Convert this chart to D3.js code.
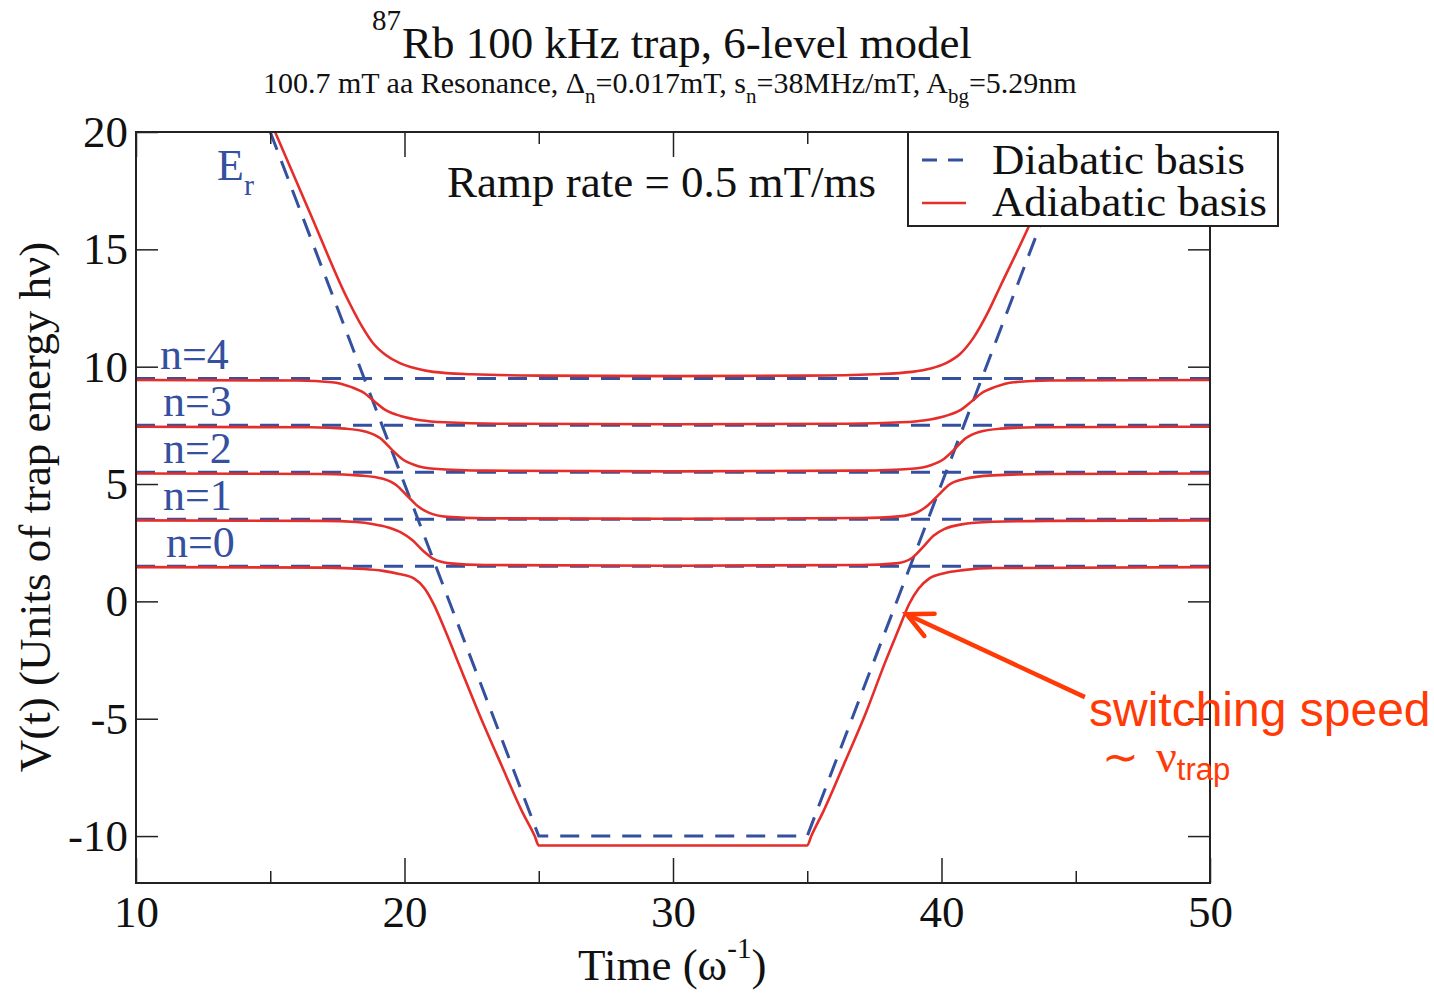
<!DOCTYPE html>
<html>
<head>
<meta charset="utf-8">
<script src="https://cdn.jsdelivr.net/npm/d3@7"></script>
<style>
  body { margin: 0; background: #fff; }
  text { font-family: "Liberation Serif", "Times New Roman", serif; }
</style>
</head>
<body>
<div id="chart"></div>
<script>
// diabatic levels (units of h nu)
var levelValues = [1.5, 3.5, 5.5, 7.5, 9.5]
var levelNames = ["n=0", "n=1", "n=2", "n=3", "n=4"]
// Er ramp, [time, V]
var erRamp = [[15, 20], [25, -10], [35, -10], [45, 20]]

// adiabatic curves, [time, V]
var adiabatic0 = [[10,1.46],[17,1.44],[18.5,1.38],[19.2,1.3],[19.8,1.17],[20.35,0.98],[20.75,0.55],[21.1,-0.15],[21.5,-1.2],[22,-2.6],[22.8,-4.85],[23.6,-6.95],[24.4,-9.0],[24.85,-10.0],[25,-10.4],[35,-10.4],[35.15,-10.0],[35.6,-8.95],[36.4,-6.85],[37.2,-4.7],[37.9,-2.6],[38.4,-1.2],[38.8,-0.1],[39.15,0.55],[39.55,0.98],[40.1,1.2],[40.8,1.33],[42,1.42],[50,1.46]]
var adiabatic1 = [[10,3.45],[17,3.43],[18.2,3.38],[18.8,3.3],[19.4,3.15],[19.85,2.95],[20.3,2.6],[20.7,2.15],[21.1,1.8],[21.7,1.62],[23,1.55],[30,1.52],[37,1.55],[38.3,1.62],[38.9,1.85],[39.3,2.3],[39.7,2.8],[40.1,3.08],[40.7,3.27],[41.9,3.39],[44,3.43],[50,3.45]]
var adiabatic2 = [[10,5.45],[17,5.43],[18.4,5.36],[19.2,5.22],[19.7,4.95],[20.1,4.5],[20.5,4.05],[20.9,3.78],[21.6,3.6],[23,3.54],[30,3.52],[37,3.55],[38.4,3.62],[39.1,3.8],[39.5,4.1],[39.9,4.55],[40.3,4.98],[40.8,5.2],[41.9,5.37],[44,5.43],[50,5.45]]
var adiabatic3 = [[10,7.44],[16.5,7.42],[17.8,7.36],[18.6,7.22],[19.1,6.95],[19.5,6.5],[19.9,6.08],[20.4,5.8],[21.1,5.65],[23,5.57],[30,5.54],[37,5.57],[38.9,5.65],[39.6,5.8],[40.1,6.08],[40.5,6.5],[40.9,6.95],[41.4,7.22],[42.2,7.36],[43.5,7.42],[50,7.44]]
var adiabatic4 = [[10,9.43],[16,9.41],[17.3,9.34],[18,9.14],[18.5,8.88],[18.85,8.55],[19.3,8.15],[19.85,7.9],[20.6,7.72],[21.5,7.63],[23.5,7.57],[30,7.55],[36.5,7.57],[38.5,7.63],[39.4,7.72],[40.15,7.9],[40.7,8.15],[41.15,8.55],[41.5,8.88],[42,9.14],[42.7,9.34],[44,9.41],[50,9.43]]
var adiabatic5 = [[15.18,20],[16.5,16.5],[17.84,12.97],[18.4,11.75],[18.83,11.0],[19.3,10.5],[19.83,10.15],[20.4,9.93],[21.07,9.78],[22.5,9.68],[25,9.62],[30,9.6],[35,9.62],[37.5,9.68],[38.9,9.78],[39.6,9.92],[40.17,10.15],[40.7,10.55],[41.2,11.25],[41.7,12.25],[42.2,13.45],[43.3,16.1],[44.7,20]]
var adiabaticCurves = [adiabatic0, adiabatic1, adiabatic2, adiabatic3, adiabatic4, adiabatic5]

var xMajor = [10, 20, 30, 40, 50]
var xMinor = [15, 25, 35, 45]
var yMajor = [-10, -5, 0, 5, 10, 15, 20]

// arrow: tail then tip, [time, V]
var arrowPts = [[45.34, -4.08], [38.7, -0.55]]

var width = 1434
var height = 993
var blue = "#34509f"
var red = "#e52d2a"
var orange = "#ff3a06"

var svg = d3.select("#chart")
	.append("svg")
	.attr("width", width)
	.attr("height", height)

var x = d3.scaleLinear().domain([10, 50]).range([136, 1210])
var y = d3.scaleLinear().domain([-12, 20]).range([883, 132])

svg.append("clipPath").attr("id", "plotclip")
	.append("rect")
	.attr("x", x(10)).attr("y", y(20))
	.attr("width", x(50) - x(10)).attr("height", y(-12) - y(20))

var plot = svg.append("g").attr("clip-path", "url(#plotclip)")

var line = d3.line().x(d => x(d[0])).y(d => y(d[1]))
var smooth = d3.line().x(d => x(d[0])).y(d => y(d[1])).curve(d3.curveMonotoneX)

// diabatic basis
plot.selectAll(".level")
	.data(levelValues)
	.enter()
	.append("line")
	.attr("x1", x(10)).attr("x2", x(50))
	.attr("y1", d => y(d)).attr("y2", d => y(d))
	.style("stroke", blue)
	.style("stroke-width", 3)
	.style("stroke-dasharray", "19,12")

plot.append("path")
	.attr("d", line(erRamp))
	.style("fill", "none")
	.style("stroke", blue)
	.style("stroke-width", 3)
	.style("stroke-dasharray", "19,12")

// adiabatic basis
plot.selectAll(".adiab")
	.data(adiabaticCurves)
	.enter()
	.append("path")
	.attr("d", d => smooth(d))
	.style("fill", "none")
	.style("stroke", red)
	.style("stroke-width", 2.6)

// axes
function styleAxis(g) {
	g.select(".domain").remove()
	g.selectAll(".tick line").style("stroke", "#222").style("stroke-width", 1.5)
	g.selectAll("text").style("font-family", "Liberation Serif, serif").style("font-size", "45px").style("fill", "#111")
}
var plainNum = d => String(d)

svg.append("g").attr("transform", "translate(0," + y(-12) + ")")
	.call(d3.axisBottom(x).tickValues(xMajor).tickSizeInner(-25).tickSizeOuter(0).tickPadding(12).tickFormat(plainNum))
	.call(styleAxis)
svg.append("g").attr("transform", "translate(0," + y(-12) + ")")
	.call(d3.axisBottom(x).tickValues(xMinor).tickSizeInner(-12).tickSizeOuter(0).tickFormat(""))
	.call(styleAxis)
svg.append("g").attr("transform", "translate(0," + y(20) + ")")
	.call(d3.axisTop(x).tickValues(xMajor).tickSizeInner(-25).tickSizeOuter(0).tickFormat(""))
	.call(styleAxis)
svg.append("g").attr("transform", "translate(0," + y(20) + ")")
	.call(d3.axisTop(x).tickValues(xMinor).tickSizeInner(-12).tickSizeOuter(0).tickFormat(""))
	.call(styleAxis)
svg.append("g").attr("transform", "translate(" + x(10) + ",0)")
	.call(d3.axisLeft(y).tickValues(yMajor).tickSizeInner(-22).tickSizeOuter(0).tickPadding(8).tickFormat(plainNum))
	.call(styleAxis)
svg.append("g").attr("transform", "translate(" + x(50) + ",0)")
	.call(d3.axisRight(y).tickValues(yMajor).tickSizeInner(-22).tickSizeOuter(0).tickFormat(""))
	.call(styleAxis)

svg.append("rect")
	.attr("x", x(10)).attr("y", y(20))
	.attr("width", x(50) - x(10)).attr("height", y(-12) - y(20))
	.style("fill", "none").style("stroke", "#222").style("stroke-width", 2)

// level labels
svg.selectAll(".nlab")
	.data(levelNames)
	.enter()
	.append("text")
	.attr("x", (d, i) => [166, 163, 163, 163, 160][i])
	.attr("y", (d, i) => y(levelValues[i]) - 9)
	.style("font-size", "44px")
	.style("fill", blue)
	.text(d => d)

// Er label
var er = svg.append("text").attr("x", 217).attr("y", 180).style("font-size", "44px").style("fill", blue)
er.append("tspan").text("E")
er.append("tspan").attr("dy", 15).style("font-size", "30px").text("r")

// ramp rate
svg.append("text").attr("x", 447).attr("y", 197).style("font-size", "45px").style("fill", "#111")
	.text("Ramp rate = 0.5 mT/ms")

// title
svg.append("text").attr("x", 372).attr("y", 30).style("font-size", "29px").style("fill", "#111").text("87")
svg.append("text").attr("x", 402).attr("y", 58).style("font-size", "45px").style("fill", "#111")
	.text("Rb 100 kHz trap, 6-level model")

var sub = svg.append("text").attr("x", 263).attr("y", 93).style("font-size", "30px").style("fill", "#111")
sub.append("tspan").text("100.7 mT aa Resonance, Δ")
sub.append("tspan").attr("dy", 10).style("font-size", "21px").text("n")
sub.append("tspan").attr("dy", -10).text("=0.017mT, s")
sub.append("tspan").attr("dy", 10).style("font-size", "21px").text("n")
sub.append("tspan").attr("dy", -10).text("=38MHz/mT, A")
sub.append("tspan").attr("dy", 10).style("font-size", "21px").text("bg")
sub.append("tspan").attr("dy", -10).text("=5.29nm")

// axis titles
svg.append("text")
	.attr("transform", "translate(50," + 507 + ") rotate(-90)")
	.attr("text-anchor", "middle")
	.style("font-size", "45px").style("fill", "#111")
	.text("V(t) (Units of trap energy hν)")

var xt = svg.append("text").attr("x", 578).attr("y", 980).style("font-size", "45px").style("fill", "#111")
xt.append("tspan").text("Time (ω")
xt.append("tspan").attr("dy", -22).style("font-size", "29px").text("-1")
xt.append("tspan").attr("dy", 22).text(")")

// legend
var legend = svg.append("g")
legend.append("rect").attr("x", 908).attr("y", 132).attr("width", 370).attr("height", 94)
	.style("fill", "#fff").style("stroke", "#222").style("stroke-width", 2)
legend.append("line").attr("x1", 922).attr("x2", 966).attr("y1", 160).attr("y2", 160)
	.style("stroke", blue).style("stroke-width", 3).style("stroke-dasharray", "15,11")
legend.append("line").attr("x1", 922).attr("x2", 966).attr("y1", 203).attr("y2", 203)
	.style("stroke", red).style("stroke-width", 2.6)
legend.append("text").attr("x", 992).attr("y", 174).style("font-size", "42px").style("fill", "#111")
	.attr("textLength", 253).attr("lengthAdjust", "spacingAndGlyphs").text("Diabatic basis")
legend.append("text").attr("x", 992).attr("y", 216).style("font-size", "42px").style("fill", "#111")
	.attr("textLength", 275).attr("lengthAdjust", "spacingAndGlyphs").text("Adiabatic basis")

// annotation
var tail = [x(arrowPts[0][0]), y(arrowPts[0][1])]
var tip = [x(arrowPts[1][0]), y(arrowPts[1][1])]
var ang = Math.atan2(tail[1] - tip[1], tail[0] - tip[0])
var headLen = 28, headAng = 0.45
svg.append("line")
	.attr("x1", tail[0]).attr("y1", tail[1]).attr("x2", tip[0] + 3 * Math.cos(ang)).attr("y2", tip[1] + 3 * Math.sin(ang))
	.style("stroke", orange).style("stroke-width", 4.5)
svg.append("path")
	.attr("d", "M" + (tip[0] + headLen * Math.cos(ang - headAng)) + "," + (tip[1] + headLen * Math.sin(ang - headAng)) +
		"L" + tip[0] + "," + tip[1] +
		"L" + (tip[0] + headLen * Math.cos(ang + headAng)) + "," + (tip[1] + headLen * Math.sin(ang + headAng)))
	.style("fill", "none").style("stroke", orange).style("stroke-width", 4.5)
	.style("stroke-linejoin", "miter").style("stroke-linecap", "round")

svg.append("text").attr("x", 1089).attr("y", 726)
	.style("font-family", "Liberation Sans, Arial, sans-serif").style("font-size", "48px").style("fill", orange)
	.text("switching speed")
var nu = svg.append("text").attr("x", 1102).attr("y", 772).style("font-size", "44px").style("fill", orange)
nu.append("tspan").text("∼ ")
nu.append("tspan").attr("dx", 6).style("font-size", "46px").text("ν")
nu.append("tspan").attr("dy", 8).style("font-family", "Liberation Sans, Arial, sans-serif").style("font-size", "31px").text("trap")
</script>
</body>
</html>
